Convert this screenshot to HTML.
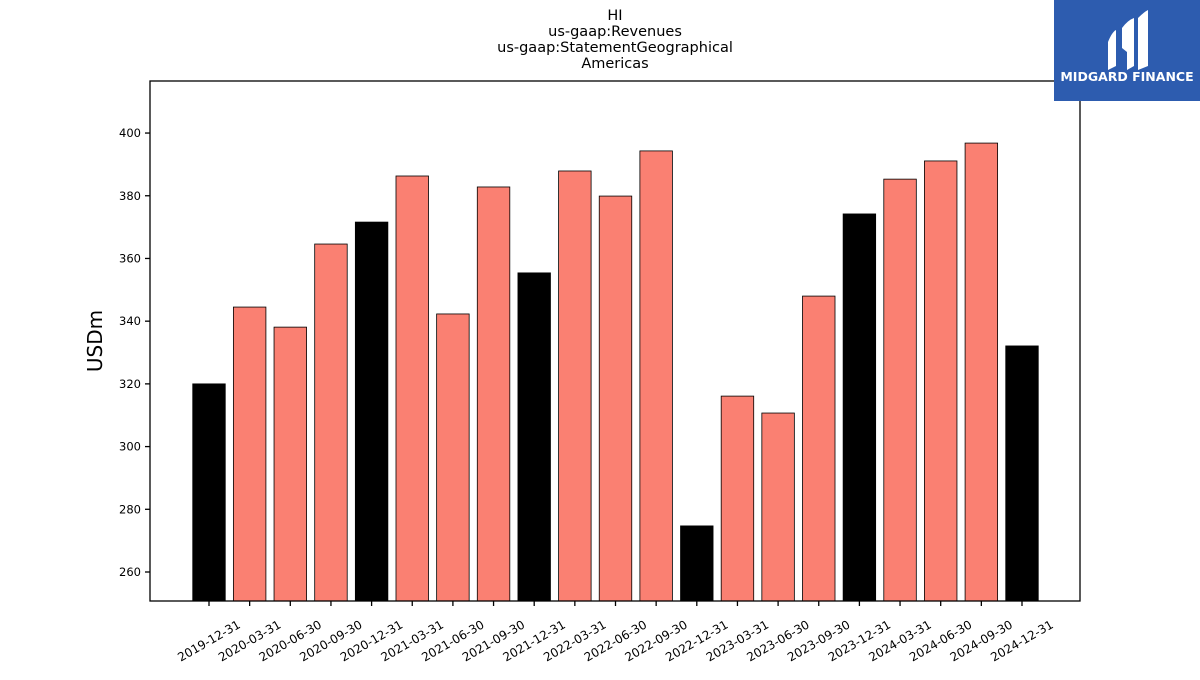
<!DOCTYPE html>
<html><head><meta charset="utf-8"><style>
body{margin:0;background:#fff;width:1200px;height:675px;overflow:hidden;font-family:"Liberation Sans","DejaVu Sans",sans-serif}
</style></head><body>
<svg id="chart" width="1200" height="675" xmlns="http://www.w3.org/2000/svg" font-family="DejaVu Sans, Liberation Sans, sans-serif">
<g font-size="14.5" text-anchor="middle" fill="#000">
<text x="615" y="20">HI</text>
<text x="615" y="36">us-gaap:Revenues</text>
<text x="615" y="52">us-gaap:StatementGeographical</text>
<text x="615" y="68">Americas</text>
</g>
<g id="bars"></g>
<g id="yaxis"></g>
<g id="xaxis"></g>
<rect x="150" y="81" width="930" height="520" fill="none" stroke="#000" stroke-width="1.3"/>
<text x="102" y="341" font-size="20" text-anchor="middle" transform="rotate(-90 102 341)">USDm</text>
<g>
<rect x="1054" y="0" width="146" height="101" fill="#2d5caf"/>
<path d="M1108 42 Q1112 32 1116 30 L1116 66 L1108 70 Z" fill="#fff"/>
<path d="M1122 28 Q1128 20 1134 18 L1134 66 L1127 70 L1127 52 L1122 48 Z" fill="#fff"/>
<path d="M1138 18 Q1144 12 1148 10 L1148 66 L1138 70 Z" fill="#fff"/>
<text x="1127" y="81" font-size="12.5" font-weight="bold" fill="#fff" text-anchor="middle" font-family="DejaVu Sans, sans-serif">MIDGARD FINANCE</text>
</g>
</svg>
<script>
const categories=["2019-12-31","2020-03-31","2020-06-30","2020-09-30","2020-12-31","2021-03-31","2021-06-30","2021-09-30","2021-12-31","2022-03-31","2022-06-30","2022-09-30","2022-12-31","2023-03-31","2023-06-30","2023-09-30","2023-12-31","2024-03-31","2024-06-30","2024-09-30","2024-12-31"];
const values=[320.0,344.5,338.1,364.6,371.6,386.3,342.3,382.8,355.4,387.9,379.9,394.3,274.7,316.1,310.7,348.0,374.2,385.3,391.1,396.8,332.1];
const yTicks=[260,280,300,320,340,360,380,400];
const NS="http://www.w3.org/2000/svg";
const L=150,R=1080,T=81,B=601,ymin=250.75,ymax=416.6;
const y=v=>B-(v-ymin)/(ymax-ymin)*(B-T);
const n=categories.length,x0=209,step=(1022-209)/(n-1);
const x=i=>x0+i*step;
const bw=step*0.8;
const bars=document.getElementById('bars'),ya=document.getElementById('yaxis'),xa=document.getElementById('xaxis');
values.forEach((v,i)=>{
 const r=document.createElementNS(NS,'rect');
 
 
 r.setAttribute('x',x(i)-bw/2);r.setAttribute('y',y(v));
 r.setAttribute('width',bw);r.setAttribute('height',B-y(v));
 r.setAttribute('fill',categories[i].endsWith('12-31')?'#000':'#fa8072');
 r.setAttribute('stroke','#000');r.setAttribute('stroke-width','0.8');
 bars.appendChild(r);
 const t=document.createElementNS(NS,'line');
 
 
 t.setAttribute('x1',x(i));t.setAttribute('x2',x(i));t.setAttribute('y1',B);t.setAttribute('y2',B+5);t.setAttribute('stroke','#000');t.setAttribute('stroke-width','1.3');
 xa.appendChild(t);
 const lb=document.createElementNS(NS,'text');
 
 
 const lx=x(i),ly=B+40;
 lb.setAttribute('x',lx);lb.setAttribute('y',ly+4);lb.setAttribute('font-size','12');lb.setAttribute('text-anchor','middle');
 lb.setAttribute('transform','rotate(-30 '+lx+' '+ly+')');
 lb.textContent=categories[i];xa.appendChild(lb);
});
yTicks.forEach(v=>{
 const t=document.createElementNS(NS,'line');
 
 
 t.setAttribute('x1',L-5);t.setAttribute('x2',L);t.setAttribute('y1',y(v));t.setAttribute('y2',y(v));t.setAttribute('stroke','#000');t.setAttribute('stroke-width','1.3');
 ya.appendChild(t);
 const lb=document.createElementNS(NS,'text');
 
 
 lb.setAttribute('x',L-9);lb.setAttribute('y',y(v)+4);lb.setAttribute('font-size','11.5');lb.setAttribute('text-anchor','end');
 lb.textContent=v;ya.appendChild(lb);
});
</script>
</body></html>
